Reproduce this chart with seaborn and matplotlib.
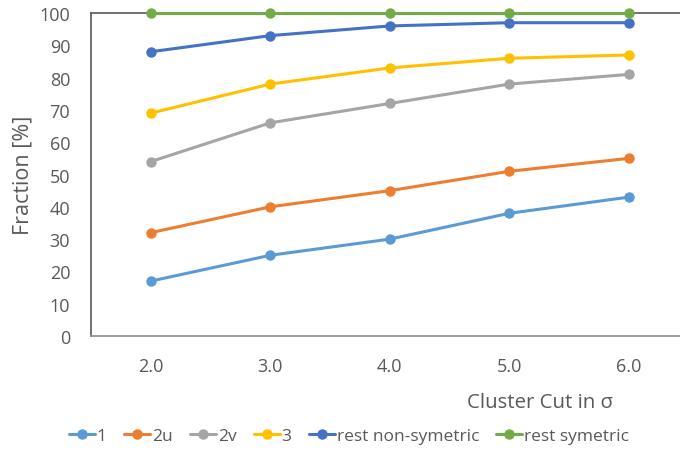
"""
Fraction of clusters per cluster type vs. the cluster cut in sigma.
"""

import pandas as pd
import seaborn as sns
import matplotlib.pyplot as plt

# data
cuts = ["2.0", "3.0", "4.0", "5.0", "6.0"]
series_names = ["1", "2u", "2v", "3", "rest non-symetric", "rest symetric"]
frac_1 = [17, 25, 30, 38, 43]
frac_2u = [32, 40, 45, 51, 55]
frac_2v = [54, 66, 72, 78, 81]
frac_3 = [69, 78, 83, 86, 87]
frac_rest_nonsym = [88, 93, 96, 97, 97]
frac_rest_sym = [100, 100, 100, 100, 100]

colors = ["#5B9BD5", "#ED7D31", "#A5A5A5", "#FFC000", "#4472C4", "#70AD47"]


def build_frame():
    """ Puts the series into one long-form dataframe. """
    values = [frac_1, frac_2u, frac_2v, frac_3, frac_rest_nonsym,
              frac_rest_sym]
    rows = []
    for name, vals in zip(series_names, values):
        for cut, v in zip(cuts, vals):
            rows.append({"Cut": cut, "Fraction": v, "Type": name})
    return pd.DataFrame(rows)


def main():
    sns.set_style("white")
    plt.rcParams["font.family"] = ["Open Sans", "DejaVu Sans"]
    text_color = "#595959"

    data = build_frame()
    fig = plt.figure(figsize=(6.8, 4.52), dpi=100)
    ax = fig.add_axes([0.1338, 0.2544, 0.879, 0.7146])

    sns.lineplot(data=data, x="Cut", y="Fraction", hue="Type",
                 hue_order=series_names, palette=colors, marker="o",
                 markersize=7.5, markeredgewidth=0, linewidth=2.2,
                 sort=False, ax=ax, legend=True)
    for line in ax.get_lines():
        line.set_clip_on(False)
        line.set_zorder(3)

    ax.set_xlim(-0.5, 4.5)
    ax.set_ylim(0, 100)
    ax.set_yticks(range(0, 101, 10))
    ax.tick_params(axis="both", length=0, labelsize=13,
                   labelcolor=text_color)
    ax.tick_params(axis="x", pad=15)
    ax.tick_params(axis="y", pad=15)
    for side in ["left", "bottom", "top"]:
        ax.spines[side].set_color("#595959")
        ax.spines[side].set_linewidth(1.2)
    ax.spines["bottom"].set_color("#8c8c8c")
    ax.spines["right"].set_visible(False)

    ax.set_xlabel("")
    ax.set_ylabel("Fraction [%]", fontsize=15.5, color=text_color)
    ax.yaxis.set_label_coords(-0.097, 0.5)
    fig.text(540 / 680, 1 - 403 / 452, "Cluster Cut in σ", fontsize=14.7,
             color=text_color, ha="center", va="center")

    handles, labels = ax.get_legend_handles_labels()
    ax.get_legend().remove()
    fig.legend(handles, labels, loc="center", ncol=6,
               bbox_to_anchor=(349 / 680, 1 - 437 / 452), frameon=False,
               fontsize=12.5, labelcolor=text_color, handlelength=1.5,
               handletextpad=0.1, columnspacing=1.0)

    fig.savefig("out.png", dpi=100)


if __name__ == "__main__":
    main()
